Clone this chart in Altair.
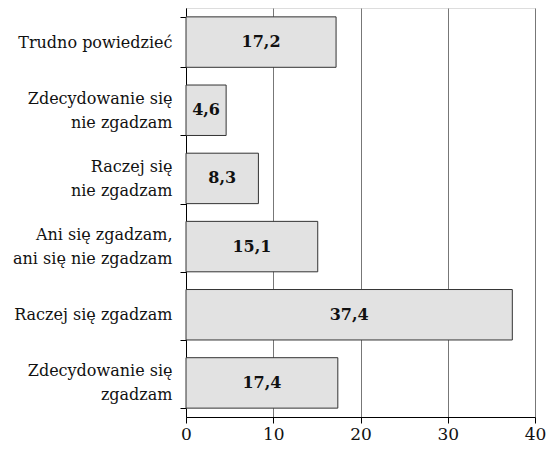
import altair as alt
import pandas as pd

categories = [
    "Trudno powiedzieć",
    "Zdecydowanie się\nnie zgadzam",
    "Raczej się\nnie zgadzam",
    "Ani się zgadzam,\nani się nie zgadzam",
    "Raczej się zgadzam",
    "Zdecydowanie się\nzgadzam",
]
values = [17.2, 4.6, 8.3, 15.1, 37.4, 17.4]
x_ticks = [0, 10, 20, 30, 40]

df = pd.DataFrame({
    "cat": categories,
    "val": values,
    "lbl": [f"{v:.1f}".replace(".", ",") for v in values],
})
df["mid"] = df["val"] / 2

FONT = "DejaVu Serif"

y = alt.Y("cat:N", sort=categories, title=None,
          scale=alt.Scale(paddingInner=0.26, paddingOuter=0.13),
          axis=alt.Axis(labelExpr="split(datum.label, '\\n')", labelFont=FONT,
                        labelFontSize=16, labelColor="#111", labelLineHeight=24,
                        labelOffset={"condition": {"test": "indexof(datum.label, '\\n') >= 0", "value": -12}, "value": 0},
                        labelPadding=8, tickBand="extent", tickSize=6,
                        tickColor="#000", domainColor="#000", labelLimit=200))

bars = alt.Chart(df).mark_bar(fill="#e2e2e2", stroke="#333", strokeWidth=1).encode(
    x=alt.X("val:Q", title=None,
            scale=alt.Scale(domain=[0, 40], nice=False),
            axis=alt.Axis(values=x_ticks, labelFont=FONT, labelFontSize=17,
                          labelColor="#111", tickSize=6, tickColor="#000",
                          domainColor="#000", grid=True, gridColor="#777",
                          labelPadding=3, labelFlush=False)),
    y=y,
)

text = alt.Chart(df).mark_text(font=FONT, fontSize=16, fontWeight="bold", color="#111").encode(
    x=alt.X("mid:Q"),
    y=alt.Y("cat:N", sort=categories),
    text="lbl:N",
)

chart = (bars + text).properties(
    width=349, height=409,
    autosize=alt.AutoSizeParams(type="none"),
    padding={"left": 178, "top": 0, "right": 11, "bottom": 29},
).configure_view(stroke="#000", strokeWidth=1).configure(background="white")

chart.save("out.html", embed_options={"renderer": "svg", "actions": False})
